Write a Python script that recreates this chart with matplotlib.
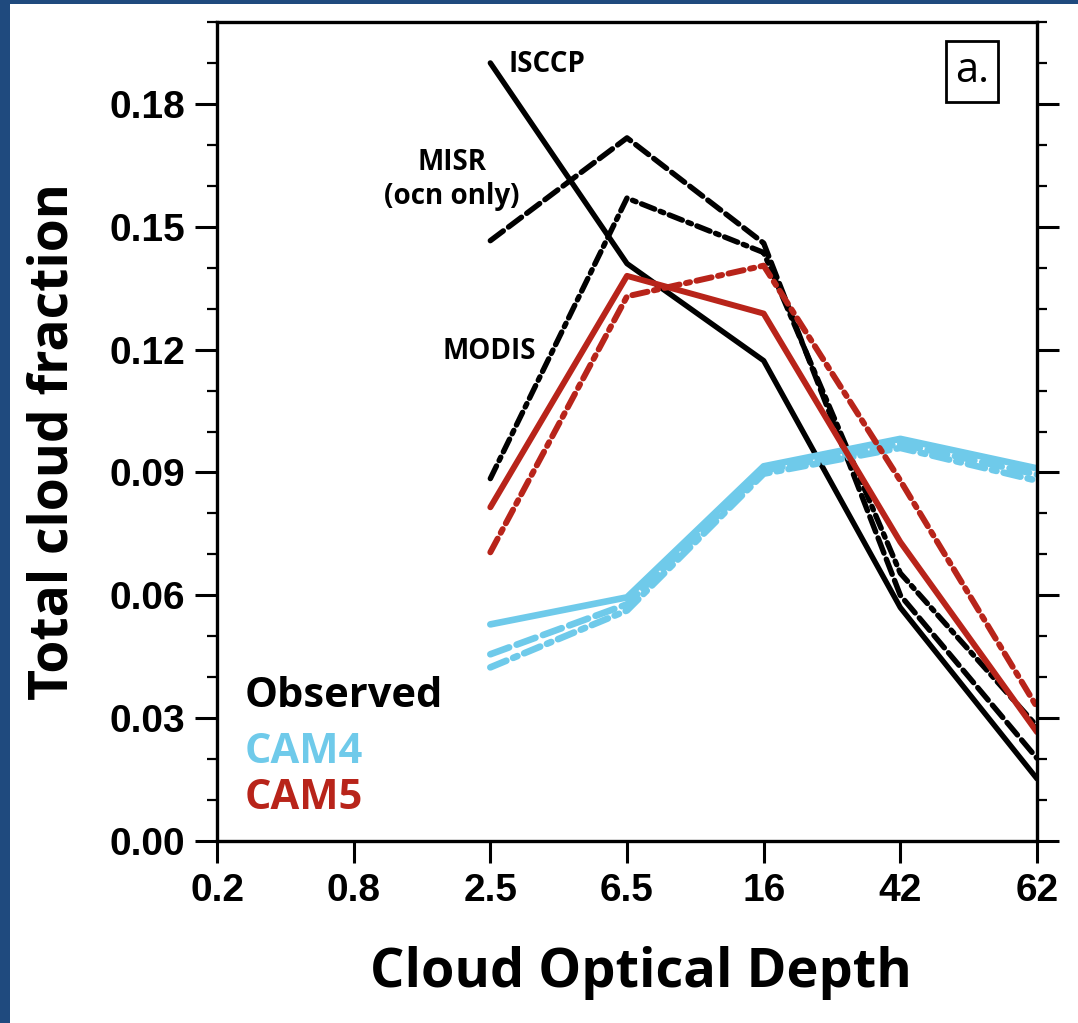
import matplotlib.pyplot as plt
from matplotlib.ticker import MultipleLocator, FormatStrFormatter
from matplotlib.patches import Rectangle


# optical depth bins on the x axis (categorical)
tau_labels = ['0.2', '0.8', '2.5', '6.5', '16', '42', '62']
tau_bins = ['2.5', '6.5', '16', '42', '62']

# observed
isccp = [0.190, 0.141, 0.1173, 0.057, 0.0152]
misr = [0.1466, 0.1717, 0.146, 0.060, 0.0202]
modis = [0.0885, 0.157, 0.1437, 0.0654, 0.028]

# CAM4 simulator output
cam4_isccp = [0.0529, 0.0595, 0.0915, 0.0982, 0.0910]
cam4_misr = [0.0456, 0.0578, 0.0905, 0.0970, 0.0895]
cam4_modis = [0.0424, 0.0563, 0.0897, 0.0960, 0.0880]

# CAM5 simulator output
cam5_isccp = [0.0815, 0.138, 0.1288, 0.073, 0.0266]
cam5_modis = [0.0705, 0.133, 0.1405, 0.088, 0.0327]

BLACK = '#000000'
BLUE = '#6fcaea'
RED = '#b8241a'
NAVY = '#1f4a7e'

DASH = (3.0, 1.2)
DASHDOT = (2.6, 1.1, 0.7, 1.1)

TICK_FONT = ['Liberation Sans', 'DejaVu Sans']
LABEL_FONT = ['Open Sans', 'DejaVu Sans']

fig = plt.figure(figsize=(10.78, 10.23), dpi=100)
fig.patch.set_facecolor('white')
# navy frame on the left and top edge
fig.add_artist(Rectangle((0, 0), 10 / 1078, 1, transform=fig.transFigure,
                         facecolor=NAVY, edgecolor='none', zorder=-10))
fig.add_artist(Rectangle((0, 1 - 4 / 1023), 1, 4 / 1023, transform=fig.transFigure,
                         facecolor=NAVY, edgecolor='none', zorder=-10))

ax = fig.add_axes([217 / 1078, 182 / 1023, 820 / 1078, 819 / 1023])
ax.set_facecolor('white')

x = [tau_labels.index(b) for b in tau_bins]

ax.plot(x, isccp, color=BLACK, lw=3.9, solid_capstyle='round', solid_joinstyle='round')
ax.plot(x, misr, color=BLACK, lw=3.9, dashes=DASH, dash_capstyle='round')
ax.plot(x, modis, color=BLACK, lw=3.9, dashes=DASHDOT, dash_capstyle='round')

ax.plot(x, cam4_isccp, color=BLUE, lw=4.8, solid_capstyle='round')
ax.plot(x, cam4_misr, color=BLUE, lw=4.8, dashes=DASH, dash_capstyle='round')
ax.plot(x, cam4_modis, color=BLUE, lw=4.8, dashes=DASHDOT, dash_capstyle='round')

ax.plot(x, cam5_isccp, color=RED, lw=4.3, solid_capstyle='round')
ax.plot(x, cam5_modis, color=RED, lw=4.3, dashes=DASHDOT, dash_capstyle='round')

ax.set_xlim(0, 6)
ax.set_ylim(0, 0.2)
ax.set_xticks(range(len(tau_labels)))
ax.set_xticklabels(tau_labels)
ax.yaxis.set_major_locator(MultipleLocator(0.03))
ax.yaxis.set_minor_locator(MultipleLocator(0.01))
ax.yaxis.set_major_formatter(FormatStrFormatter('%.2f'))

for s in ax.spines.values():
    s.set_linewidth(2.4)
ax.tick_params(which='major', direction='out', length=16, width=2.2, pad=7,
               left=True, right=True, bottom=True, top=False)
ax.tick_params(which='minor', direction='out', length=7, width=1.6,
               left=True, right=True)
ax.tick_params(axis='x', which='minor', bottom=False)
for lab in ax.get_xticklabels() + ax.get_yticklabels():
    lab.set_fontfamily(TICK_FONT)
    lab.set_fontweight('bold')
    lab.set_fontsize(28)

ax.set_xlabel('Cloud Optical Depth', family=LABEL_FONT, fontweight='bold', fontsize=39)
ax.xaxis.set_label_coords(0.517, -0.128)
ax.set_ylabel('Total cloud fraction', family=LABEL_FONT, fontweight='bold', fontsize=38.5)
ax.yaxis.set_label_coords(-0.167, 0.488)

# series annotations
ax.text(2.13, 0.1895, 'ISCCP', family=LABEL_FONT, fontweight='bold', fontsize=20, va='center')
ax.text(1.72, 0.1615, 'MISR\n(ocn only)', family=LABEL_FONT, fontweight='bold', fontsize=20,
        ha='center', va='center', linespacing=1.25)
ax.text(1.99, 0.1195, 'MODIS', family=LABEL_FONT, fontweight='bold', fontsize=20, ha='center', va='center')

# colour key
ax.text(0.2, 0.0327, 'Observed', color=BLACK, family=LABEL_FONT, fontweight='bold', fontsize=30, va='baseline')
ax.text(0.2, 0.0190, 'CAM4', color=BLUE, family=LABEL_FONT, fontweight='bold', fontsize=30, va='baseline')
ax.text(0.2, 0.0078, 'CAM5', color=RED, family=LABEL_FONT, fontweight='bold', fontsize=30, va='baseline')

ax.text(0.921, 0.9396, 'a.', transform=ax.transAxes, family=LABEL_FONT, fontsize=30,
        ha='center', va='center',
        bbox=dict(boxstyle='square,pad=0.22', facecolor='white', edgecolor='black', linewidth=2))

fig.savefig('out.png', dpi=100)
